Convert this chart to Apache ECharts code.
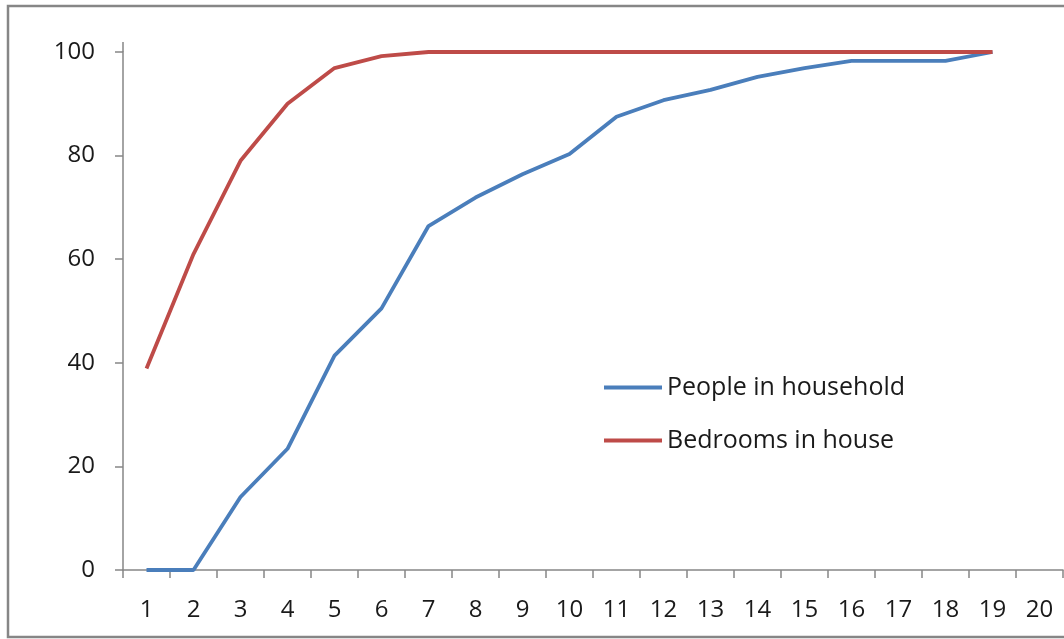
<!DOCTYPE html>
<html>
<head>
<meta charset="utf-8">
<script src="https://cdn.jsdelivr.net/npm/echarts@6/dist/echarts.min.js"></script>
<style>
  html, body { margin: 0; padding: 0; background: #ffffff; }
  #chart { width: 1064px; height: 639px; }
</style>
</head>
<body>
<div id="chart"></div>
<script>
// Cumulative percentage by count (1–20)
const categories = ['1','2','3','4','5','6','7','8','9','10','11','12','13','14','15','16','17','18','19','20'];
const peopleInHousehold = [0, 0, 14.1, 23.4, 41.4, 50.5, 66.4, 71.9, 76.4, 80.3, 87.5, 90.7, 92.7, 95.2, 96.9, 98.3, 98.3, 98.3, 100, null];
const bedroomsInHouse = [38.9, 61.0, 79.0, 90.0, 96.9, 99.2, 100, 100, 100, 100, 100, 100, 100, 100, 100, 100, 100, 100, 100, null];
const yTicks = [0, 20, 40, 60, 80, 100];

const FONT = '"Open Sans", "Noto Sans", sans-serif';
const AXIS_GREY = '#868686';

const chart = echarts.init(document.getElementById('chart'), null, { renderer: 'canvas' });

chart.setOption({
  backgroundColor: '#ffffff',
  animation: false,
  grid: { left: 123, top: 52, right: 1, bottom: 69, containLabel: false },
  legend: {
    orient: 'vertical',
    left: 599,
    top: 370,
    itemWidth: 58,
    itemHeight: 4,
    itemGap: 28,
    icon: 'rect',
    textStyle: { fontFamily: FONT, fontSize: 25, color: '#1a1a1a' },
    data: ['People in household', 'Bedrooms in house']
  },
  xAxis: {
    type: 'category',
    data: categories,
    boundaryGap: true,
    axisLine: { lineStyle: { color: AXIS_GREY, width: 1.5 } },
    axisTick: { show: true, alignWithLabel: false, length: 8, lineStyle: { color: AXIS_GREY, width: 1.5 } },
    axisLabel: { fontFamily: FONT, fontSize: 24, color: '#1a1a1a', margin: 28 },
    splitLine: { show: false }
  },
  yAxis: {
    type: 'value',
    min: yTicks[0],
    max: yTicks[yTicks.length - 1],
    interval: 20,
    axisLine: { show: true, lineStyle: { color: AXIS_GREY, width: 1.5 } },
    axisTick: { show: true, length: 8, lineStyle: { color: AXIS_GREY, width: 1.5 } },
    axisLabel: { fontFamily: FONT, fontSize: 24, color: '#1a1a1a', margin: 28 },
    splitLine: { show: false }
  },
  series: [
    {
      name: 'People in household',
      type: 'line',
      data: peopleInHousehold,
      symbol: 'none',
      lineStyle: { color: '#4A7EBB', width: 3.8 },
      itemStyle: { color: '#4A7EBB' }
    },
    {
      name: 'Bedrooms in house',
      type: 'line',
      data: bedroomsInHouse,
      symbol: 'none',
      lineStyle: { color: '#BE4B48', width: 3.8 },
      itemStyle: { color: '#BE4B48' }
    }
  ],
  graphic: [
    // chart frame
    { type: 'rect', shape: { x: 8, y: 6, width: 1070, height: 631 },
      style: { fill: 'none', stroke: AXIS_GREY, lineWidth: 2.5 }, silent: true, z: 100 },
    // vertical axis runs a little past the top tick
    { type: 'line', shape: { x1: 123, y1: 42, x2: 123, y2: 52 },
      style: { stroke: AXIS_GREY, lineWidth: 1.5 }, silent: true }
  ]
});
</script>
</body>
</html>
